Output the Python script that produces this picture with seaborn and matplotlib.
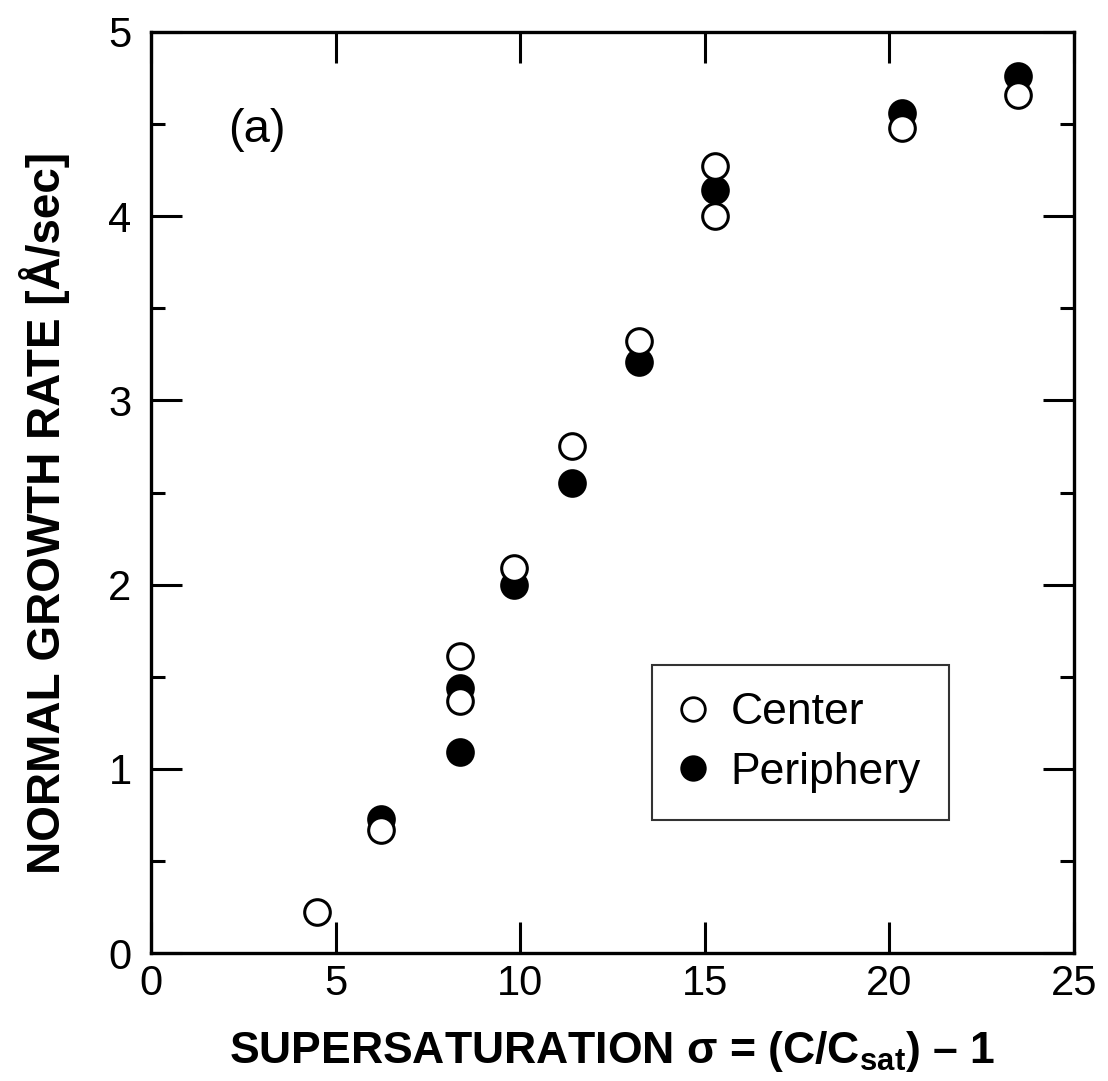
import matplotlib
matplotlib.use("Agg")
import matplotlib.pyplot as plt
import seaborn as sns
import pandas as pd
from matplotlib.ticker import MultipleLocator
from matplotlib.lines import Line2D

center_x = [4.50, 6.24, 8.38, 8.38, 9.82, 11.39, 13.21, 15.28, 15.28, 20.33, 23.49]
center_y = [0.22, 0.67, 1.61, 1.37, 2.09, 2.75, 3.32, 4.27, 4.00, 4.48, 4.66]
periph_x = [6.24, 8.38, 8.38, 9.82, 11.39, 13.21, 15.28, 20.33, 23.49]
periph_y = [0.73, 1.44, 1.09, 2.00, 2.55, 3.21, 4.14, 4.56, 4.76]
series_names = ["Center", "Periphery"]
x_ticks = [0, 5, 10, 15, 20, 25]
y_ticks = [0, 1, 2, 3, 4, 5]

sns.set_theme(style="ticks")
plt.rcParams['font.family'] = ['Liberation Sans', 'DejaVu Sans']
plt.rcParams.update({
    "text.color": "black", "axes.labelcolor": "black",
    "xtick.color": "black", "ytick.color": "black",
    "mathtext.fontset": "custom",
    "mathtext.rm": "Liberation Sans",
    "mathtext.bf": "Liberation Sans:bold",
    "mathtext.it": "Liberation Sans:italic",
})

df = pd.concat([
    pd.DataFrame({"x": center_x, "y": center_y, "s": series_names[0]}),
    pd.DataFrame({"x": periph_x, "y": periph_y, "s": series_names[1]}),
])

fig = plt.figure(figsize=(11.08, 10.81), dpi=100)
ax = fig.add_axes([0.1363, 0.1184, 0.8330, 0.8520])

sns.scatterplot(data=df[df.s == "Periphery"], x="x", y="y", ax=ax, s=340,
                color="black", edgecolor="black", linewidth=2.2, legend=False, zorder=3)
sns.scatterplot(data=df[df.s == "Center"], x="x", y="y", ax=ax, s=340,
                facecolor="white", edgecolor="black", linewidth=2.2, legend=False, zorder=4)

ax.set_xlim(0, 25)
ax.set_ylim(0, 5)
ax.set_xticks(x_ticks)
ax.set_yticks(y_ticks)
ax.yaxis.set_minor_locator(MultipleLocator(0.5))
ax.tick_params(which="both", direction="in", top=True, right=True, width=2.2, color="black")
ax.tick_params(which="major", length=22, labelsize=30)
ax.tick_params(axis="x", which="major", pad=8)
ax.tick_params(axis="y", which="major", pad=14)
ax.tick_params(which="minor", length=10)
ax.tick_params(axis="x", which="minor", bottom=False, top=False)
for sp in ax.spines.values():
    sp.set_linewidth(2.4)
    sp.set_color("black")

ax.set_xlabel(r"SUPERSATURATION σ = (C/C$_{\mathbf{sat}}$) – 1",
              fontsize=32, fontweight="bold", labelpad=18)
ax.set_ylabel("NORMAL GROWTH RATE [Å/sec]", fontsize=33, fontweight="bold")
ax.yaxis.set_label_coords(-0.088, 0.478)

ax.text(2.87, 4.47, "(a)", fontsize=34, ha="center", va="center")

handles = [
    Line2D([], [], marker="o", linestyle="none", markersize=17, markerfacecolor="white",
           markeredgecolor="black", markeredgewidth=2.0),
    Line2D([], [], marker="o", linestyle="none", markersize=17, markerfacecolor="black",
           markeredgecolor="black", markeredgewidth=2.0),
]
leg = ax.legend(handles, series_names, loc="lower left", bbox_to_anchor=(0.543, 0.144),
                borderaxespad=0, fontsize=32, frameon=True, fancybox=False,
                handletextpad=0.55, borderpad=0.62, labelspacing=0.42, handlelength=0.6)
leg.get_frame().set_edgecolor("black")
leg.get_frame().set_linewidth(1.5)

fig.savefig("out.png", dpi=100)
